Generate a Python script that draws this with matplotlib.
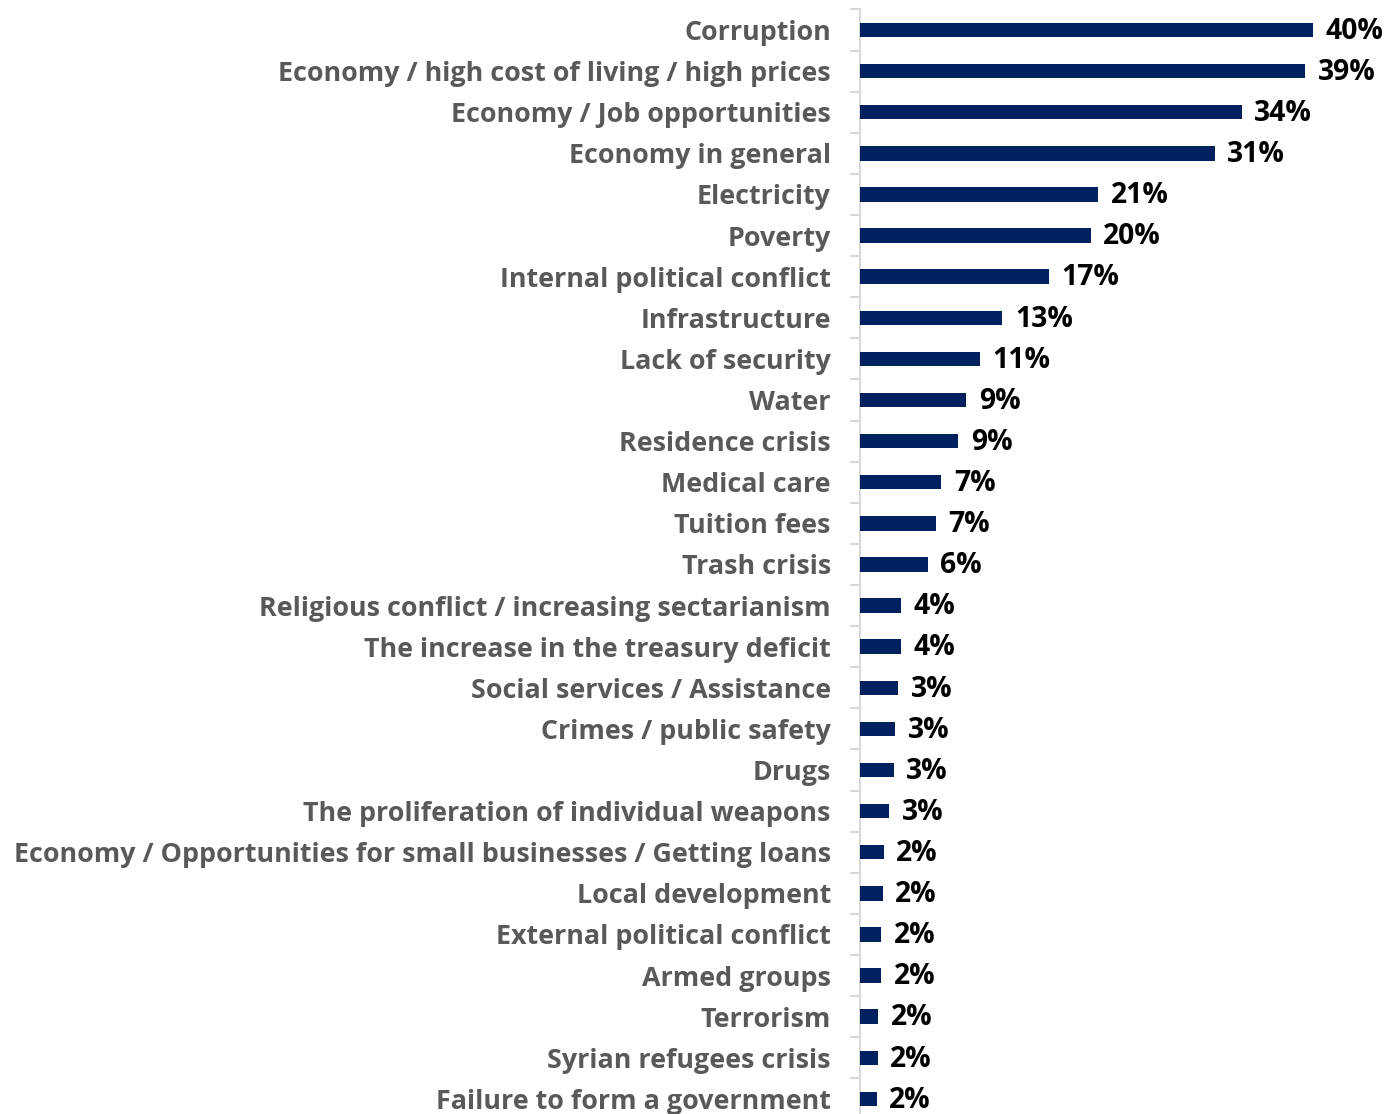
import matplotlib
matplotlib.use("Agg")
import matplotlib.pyplot as plt
from matplotlib.ticker import FixedLocator

# ── DATA ──────────────────────────────────────────────────────────────────────
categories = [
    "Corruption",
    "Economy / high cost of living / high prices",
    "Economy / Job opportunities",
    "Economy in general",
    "Electricity",
    "Poverty",
    "Internal political conflict",
    "Infrastructure",
    "Lack of security",
    "Water",
    "Residence crisis",
    "Medical care",
    "Tuition fees",
    "Trash crisis",
    "Religious conflict / increasing sectarianism",
    "The increase in the treasury deficit",
    "Social services / Assistance",
    "Crimes / public safety",
    "Drugs",
    "The proliferation of individual weapons",
    "Economy / Opportunities for small businesses / Getting loans",
    "Local development",
    "External political conflict",
    "Armed groups",
    "Terrorism",
    "Syrian refugees crisis",
    "Failure to form a government",
]
shares = [
    40.1, 39.4, 33.8, 31.4, 21.1, 20.4, 16.7, 12.6, 10.6, 9.4, 8.7, 7.2, 6.7,
    6.0, 3.6, 3.6, 3.4, 3.1, 3.0, 2.6, 2.1, 2.0, 1.9, 1.9, 1.6, 1.55, 1.5,
]

# ── STIJL ─────────────────────────────────────────────────────────────────────
BAR_KLEUR   = "#002060"
LABEL_GRIJS = "#595959"
AS_GRIJS    = "#D9D9D9"
FONT        = ["Open Sans", "DejaVu Sans"]

plt.rcParams["font.family"] = FONT

fig = plt.figure(figsize=(13.88, 11.14), dpi=100)
# as loopt van x=860 px tot de rechterrand, rijen van 9.5 px tot net onder de rand
ax = fig.add_axes([860 / 1388, -0.0049, 528 / 1388, 0.9964])

n = len(categories)
pos = list(range(n))
ax.barh(pos, shares, height=0.35, color=BAR_KLEUR, zorder=3)

ax.set_ylim(n - 0.5, -0.5)
ax.set_xlim(0, 528 / 11.3)

# percentages rechts naast de balken
for y, v in zip(pos, shares):
    ax.text(v + 1.1, y + 0.03, f"{v:.0f}%", ha="left", va="center",
            fontsize=20.3, fontweight="bold", color="black", clip_on=False)

ax.set_yticks(pos)
ax.set_yticklabels(categories, fontsize=19.4, fontweight="bold", color=LABEL_GRIJS)
ax.tick_params(axis="y", which="major", length=0, pad=21)
ax.yaxis.set_minor_locator(FixedLocator([p - 0.5 for p in range(n + 1)]))
ax.tick_params(axis="y", which="minor", length=7, width=1.5, color=AS_GRIJS)

ax.set_xticks([])
for side in ["top", "right", "bottom"]:
    ax.spines[side].set_visible(False)
ax.spines["left"].set_color(AS_GRIJS)
ax.spines["left"].set_linewidth(1.5)

fig.savefig("out.png", dpi=100)
